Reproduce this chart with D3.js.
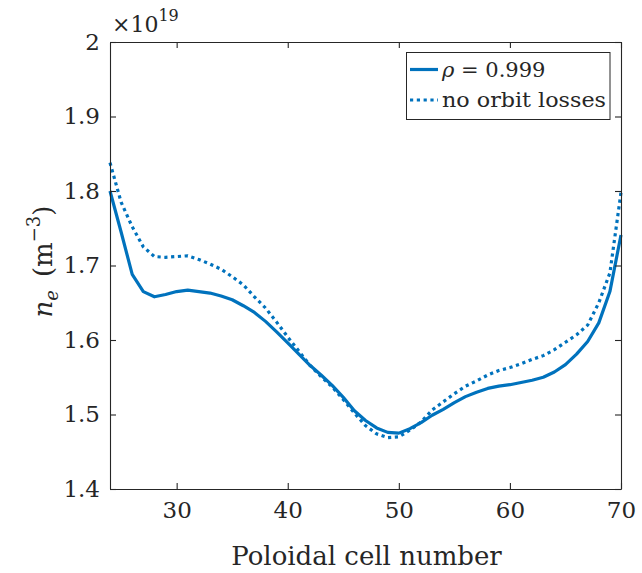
<!DOCTYPE html>
<html><head><meta charset="utf-8">
<script src="https://cdn.jsdelivr.net/npm/d3@7"></script>
<style>
html,body{margin:0;padding:0;background:#fff;}
svg text{font-family:"DejaVu Serif",serif;fill:#262626;}
</style></head>
<body><svg id="c" width="642" height="573"></svg>
<script>
const cells = d3.range(24, 71);
const rho999 = [1.800,1.745,1.688,1.665,1.658,1.661,1.665,1.667,1.665,1.663,
  1.659,1.654,1.646,1.637,1.625,1.611,1.596,1.581,1.566,1.553,
  1.539,1.523,1.505,1.492,1.482,1.476,1.475,1.481,1.489,1.499,
  1.507,1.516,1.524,1.530,1.535,1.538,1.540,1.543,1.546,1.550,
  1.557,1.567,1.581,1.598,1.623,1.665,1.741];
const noOrbit = [1.838,1.785,1.752,1.725,1.712,1.711,1.712,1.713,1.708,1.702,
  1.695,1.685,1.674,1.658,1.643,1.624,1.604,1.585,1.566,1.551,
  1.537,1.520,1.502,1.485,1.474,1.469,1.470,1.479,1.490,1.506,
  1.517,1.528,1.538,1.545,1.553,1.559,1.563,1.568,1.574,1.579,
  1.587,1.597,1.607,1.620,1.650,1.690,1.798];
const xTicks = [30, 40, 50, 60, 70];
const yTicks = [1.4, 1.5, 1.6, 1.7, 1.8, 1.9, 2.0];
const seriesNames = ["ρ = 0.999", "no orbit losses"];

const color = "#0072BD";
const FF = '"DejaVu Serif",serif';
const L = 110, R = 621, T = 42, B = 489;
const svg = d3.select("#c");
const x = d3.scaleLinear().domain([24, 70]).range([L, R]);
const y = d3.scaleLinear().domain([1.4, 2.0]).range([B, T]);

const line = d3.line().x((d,i)=>x(cells[i])).y(d=>y(d));
const g = svg.append("g");
g.append("path").datum(noOrbit).attr("d", line).attr("fill","none")
  .attr("stroke", color).attr("stroke-width", 3.2).attr("stroke-dasharray","3.2,3.6");
g.append("path").datum(rho999).attr("d", line).attr("fill","none")
  .attr("stroke", color).attr("stroke-width", 3.2).attr("stroke-linejoin","round");

const axCol = "#262626";
const tl = 6;
const xb = svg.append("g").attr("transform",`translate(0,${B})`)
  .call(d3.axisBottom(x).tickValues(xTicks).tickSizeInner(-tl).tickSizeOuter(0).tickPadding(13).tickFormat(d3.format("d")));
const xt = svg.append("g").attr("transform",`translate(0,${T})`)
  .call(d3.axisTop(x).tickValues(xTicks).tickSizeInner(-tl).tickSizeOuter(0).tickFormat(""));
const yl = svg.append("g").attr("transform",`translate(${L},0)`)
  .call(d3.axisLeft(y).tickValues(yTicks).tickSizeInner(-tl).tickSizeOuter(0).tickPadding(10)
    .tickFormat(d => d===2 ? "2" : d.toFixed(1)));
const yr = svg.append("g").attr("transform",`translate(${R},0)`)
  .call(d3.axisRight(y).tickValues(yTicks).tickSizeInner(-tl).tickSizeOuter(0).tickFormat(""));
[xb,xt,yl,yr].forEach(a=>{
  a.attr("font-family",FF);
  a.selectAll("path").attr("stroke",axCol).attr("stroke-width",1.1);
  a.selectAll("line").attr("stroke",axCol).attr("stroke-width",1.1);
  a.selectAll("text").attr("font-size",23).attr("fill",axCol).attr("font-family",FF);
});

svg.append("text").attr("x",(L+R)/2+1).attr("y",565).attr("text-anchor","middle")
  .attr("font-size",26).text("Poloidal cell number");

const ylab = svg.append("text").attr("transform",`translate(52,${(T+B)/2 - 4}) rotate(-90)`)
  .attr("text-anchor","middle").attr("font-size",26);
ylab.append("tspan").attr("font-style","italic").text("n");
ylab.append("tspan").attr("font-style","italic").attr("font-size",18).attr("dy",6).text("e");
ylab.append("tspan").attr("dy",-6).text("\u2002(m");
ylab.append("tspan").attr("font-size",18).attr("dy",-12).text("\u22123");
ylab.append("tspan").attr("dy",12).text(")");

const ex = svg.append("text").attr("x",112).attr("y",32).attr("font-size",22);
ex.append("tspan").text("×10");
ex.append("tspan").attr("font-size",16).attr("dy",-11).text("19");

const lg = svg.append("g");
lg.append("rect").attr("x",406.5).attr("y",52.5).attr("width",203.5).attr("height",67)
  .attr("fill","#fff").attr("stroke",axCol).attr("stroke-width",1);
const rows = [{y:69.5, dash:null},{y:100, dash:"3.2,3.6"}];
rows.forEach(r=>{
  const l = lg.append("line").attr("x1",410).attr("x2",438).attr("y1",r.y).attr("y2",r.y)
    .attr("stroke",color).attr("stroke-width",3.2);
  if (r.dash) l.attr("stroke-dasharray",r.dash);
});
const t1 = lg.append("text").attr("x",442).attr("y",69.5).attr("dy","0.35em").attr("font-size",21);
t1.append("tspan").attr("font-style","italic").text(seriesNames[0].slice(0,1));
t1.append("tspan").text(seriesNames[0].slice(1));
lg.append("text").attr("x",442).attr("y",100).attr("dy","0.35em").attr("font-size",21)
  .attr("textLength",164).attr("lengthAdjust","spacingAndGlyphs").text(seriesNames[1]);
</script></body></html>
